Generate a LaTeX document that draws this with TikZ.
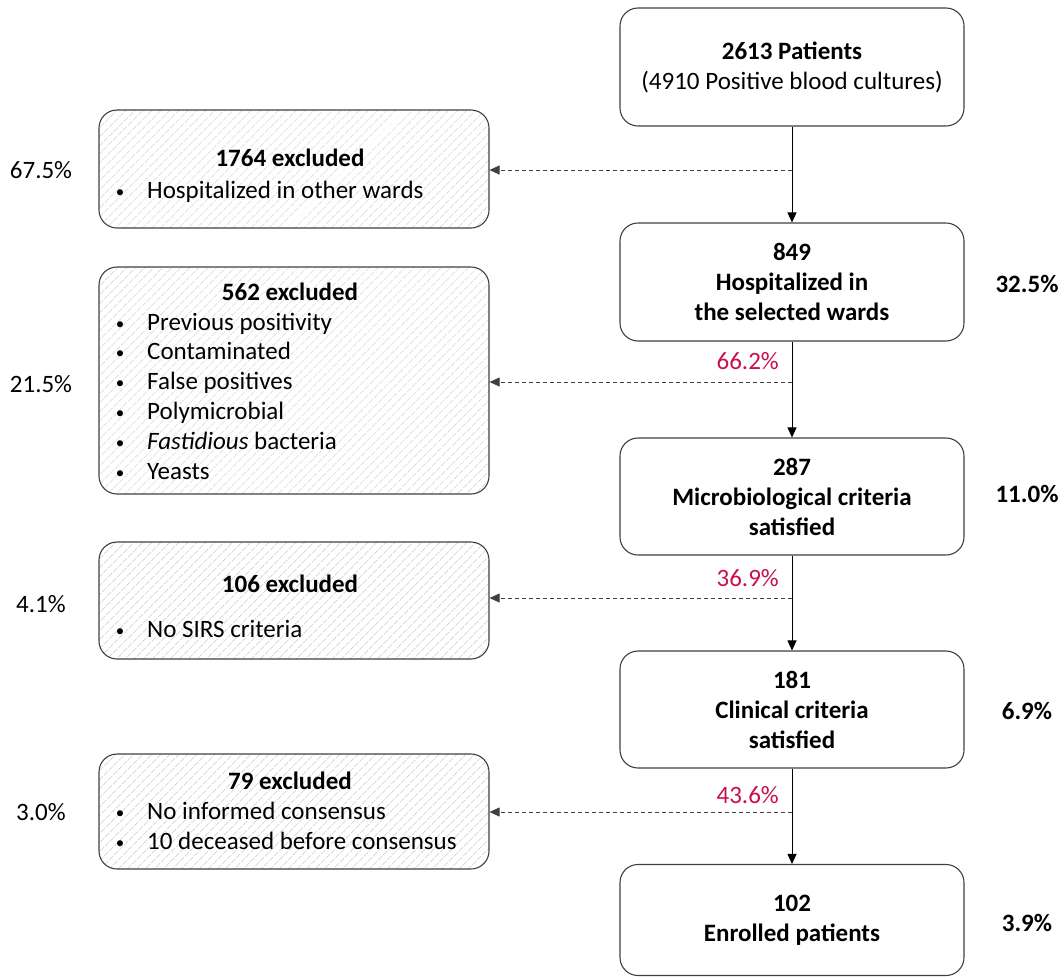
\documentclass[tikz,border=0pt]{standalone}
\usepackage{fontspec}
\setmainfont{Carlito}
\usetikzlibrary{arrows.meta,patterns.meta}
\definecolor{pctred}{RGB}{200,16,75}
\definecolor{edge}{RGB}{64,64,64}
\newcommand{\bodyfont}{\fontsize{25}{30}\selectfont}
\begin{document}
\begin{tikzpicture}[x=1pt,y=-1pt,
  every node/.style={font=\bodyfont, inner sep=0pt},
  stage/.style={draw=edge, line width=1.1pt, rounded corners=18pt, fill=white,
    minimum width=344pt, align=center},
  heavy/.style={font=\bodyfont\bfseries},
  excl/.style={draw=edge, line width=1.1pt, rounded corners=18pt,
    minimum width=390pt,
    pattern={Lines[angle=45,distance=6.5pt,line width=1pt]}, pattern color=black!15},
  flow/.style={-{Triangle[length=10pt,width=9pt]}, line width=0.9pt},
  side/.style={-{Triangle[length=10pt,width=9pt]}, line width=0.8pt,
    dash pattern=on 4pt off 3pt, draw=edge},
  title/.style={font=\bodyfont\bfseries, anchor=base},
  dot/.style={anchor=base, font=\fontsize{17}{20}\selectfont},
  item/.style={anchor=base west},
  lpct/.style={},
  rpct/.style={font=\bodyfont\bfseries},
  kept/.style={text=pctred, anchor=east}
]
\useasboundingbox (0,0) rectangle (1059,978);

% main flow
\node[stage, minimum height=118pt] (s1) at (792,67)
  {\textbf{2613 Patients}\\(4910 Positive blood cultures)};
\node[stage, heavy, minimum height=118pt] (s2) at (792,282)
  {849\\Hospitalized in\\the selected wards};
\node[stage, heavy, minimum height=117pt] (s3) at (792,496.5)
  {287\\Microbiological criteria\\satisfied};
\node[stage, heavy, minimum height=117pt] (s4) at (792,709.5)
  {181\\Clinical criteria\\satisfied};
\node[stage, heavy, minimum height=111pt] (s5) at (792,920)
  {102\\Enrolled patients};

% exclusion boxes
\node[excl, minimum height=118pt] (e1) at (294,169) {};
\node[excl, minimum height=227pt] (e2) at (294,380.5) {};
\node[excl, minimum height=117pt] (e3) at (294,600.5) {};
\node[excl, minimum height=115pt] (e4) at (294,811.5) {};

% exclusion texts
\node[title] (t1) at (290,166) {1764 excluded};
\node[dot] (b11) at (120,197) {\textbullet};
\node[item] (i11) at (147,198) {Hospitalized in other wards};

\node[title] (t2) at (290,300) {562 excluded};
\node[dot] (b21) at (120,329) {\textbullet};
\node[item] (i21) at (147,330) {Previous positivity};
\node[dot] (b22) at (120,358) {\textbullet};
\node[item] (i22) at (147,359) {Contaminated};
\node[dot] (b23) at (120,388) {\textbullet};
\node[item] (i23) at (147,389) {False positives};
\node[dot] (b24) at (120,418) {\textbullet};
\node[item] (i24) at (147,419) {Polymicrobial};
\node[dot] (b25) at (120,448) {\textbullet};
\node[item] (i25) at (147,449) {\textit{Fastidious} bacteria};
\node[dot] (b26) at (120,478) {\textbullet};
\node[item] (i26) at (147,479) {Yeasts};

\node[title] (t3) at (290,592) {106 excluded};
\node[dot] (b31) at (120,636) {\textbullet};
\node[item] (i31) at (147,637) {No SIRS criteria};

\node[title] (t4) at (290,789) {79 excluded};
\node[dot] (b41) at (120,818) {\textbullet};
\node[item] (i41) at (147,819) {No informed consensus};
\node[dot] (b42) at (120,848) {\textbullet};
\node[item] (i42) at (147,849) {10 deceased before consensus};

% vertical flow
\draw[flow] (s1.south) -- (s2.north);
\draw[flow] (s2.south) -- (s3.north);
\draw[flow] (s3.south) -- (s4.north);
\draw[flow] (s4.south) -- (s5.north);

% branches to exclusions
\coordinate (j1) at (792,170);
\coordinate (j2) at (792,382);
\coordinate (j3) at (792,598);
\coordinate (j4) at (792,812);
\draw[side] (j1) -- (j1 -| e1.east);
\draw[side] (j2) -- (j2 -| e2.east);
\draw[side] (j3) -- (j3 -| e3.east);
\draw[side] (j4) -- (j4 -| e4.east);

% percentages
\node[lpct] (p1) at (41,170) {67.5\%};
\node[lpct] (p2) at (41,384) {21.5\%};
\node[lpct] (p3) at (41,604) {4.1\%};
\node[lpct] (p4) at (41,812) {3.0\%};

\node[rpct] (q2) at (1027,284) {32.5\%};
\node[rpct] (q3) at (1027,494) {11.0\%};
\node[rpct] (q4) at (1027,711) {6.9\%};
\node[rpct] (q5) at (1027,923) {3.9\%};

\node[kept] (k2) at (779,361) {66.2\%};
\node[kept] (k3) at (779,578) {36.9\%};
\node[kept] (k4) at (779,795) {43.6\%};
\end{tikzpicture}
\end{document}
